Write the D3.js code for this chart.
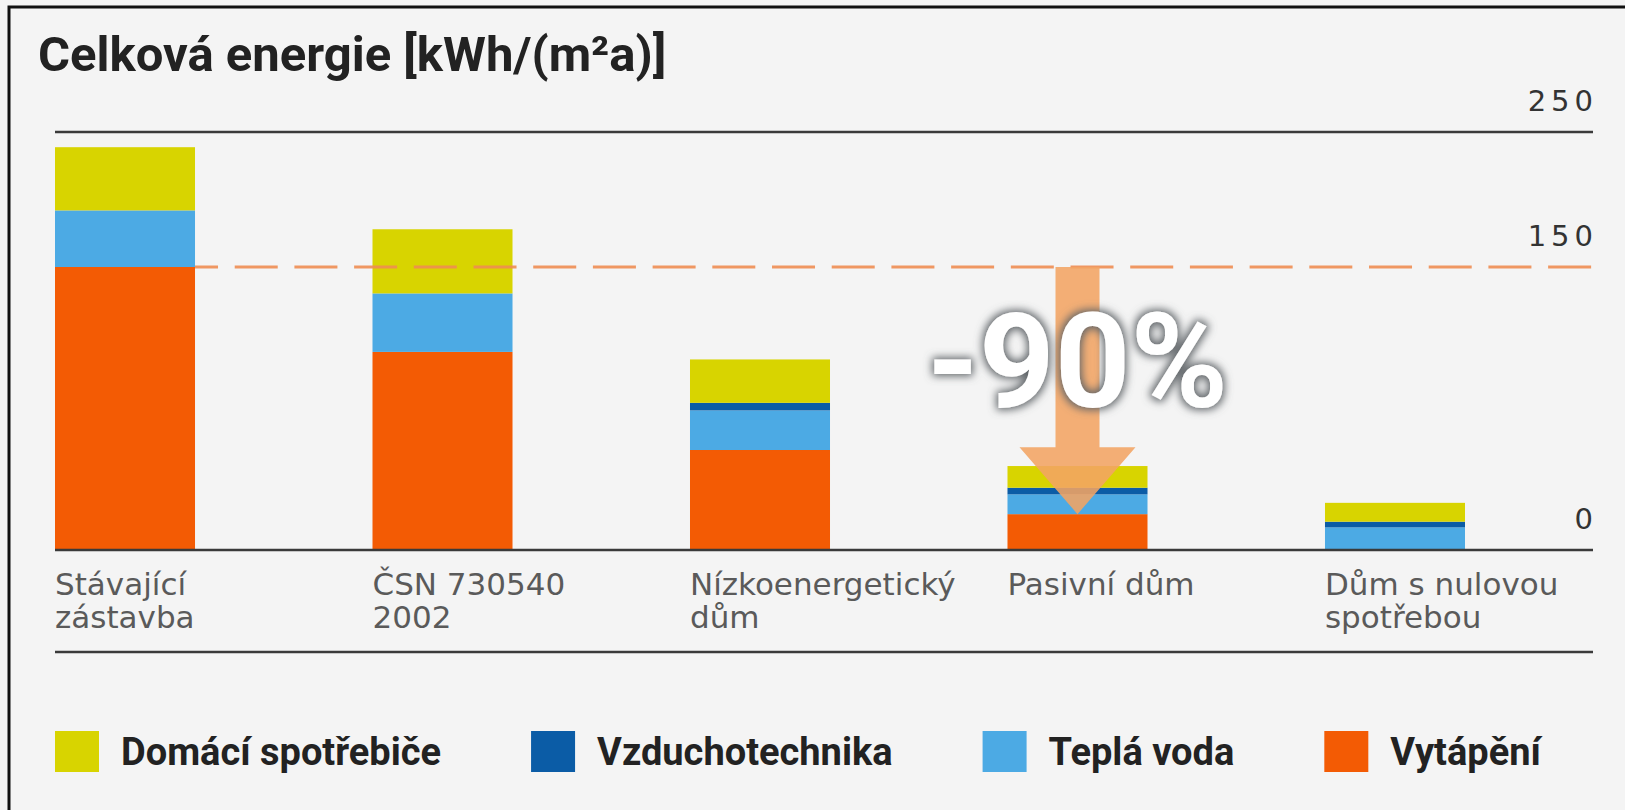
<!DOCTYPE html>
<html>
<head>
<meta charset="utf-8">
<script src="https://cdn.jsdelivr.net/npm/d3@7"></script>
<style>
  html, body { margin: 0; padding: 0; background: #f4f4f4; }
  svg { display: block; }
</style>
</head>
<body>
<div id="chart"></div>
<script>
// data, kWh/(m2a)
var categories = ["Stávající zástavba", "ČSN 730540 2002", "Nízkoenergetický dům", "Pasivní dům", "Dům s nulovou spotřebou"];
var categoryLines = [["Stávající", "zástavba"], ["ČSN 730540", "2002"], ["Nízkoenergetický", "dům"], ["Pasivní dům"], ["Dům s nulovou", "spotřebou"]];
var vytapeni = [150, 105, 53, 19, 0];
var teplaVoda = [30, 31, 21, 10.5, 12];
var vzduchotechnika = [0, 0, 4, 3.5, 3];
var spotrebice = [33.5, 34, 23, 11.5, 10];
var seriesNames = ["Vytápění", "Teplá voda", "Vzduchotechnika", "Domácí spotřebiče"];
var tickValues = [0, 150, 250];
var tickLabels = ["0", "150", "250"];
var referenceValue = 150;
var reductionLabel = "-90%";
var title = "Celková energie [kWh/(m²a)]";

var width = 1625, height = 810;
var left = 55, right = 1593;
var plotTop = 132, baseY = 550, lowerRule = 652;

var svg = d3.select("#chart")
  .append("svg")
  .attr("width", width)
  .attr("height", height);

var defs = svg.append("defs");
var glow = defs.append("filter")
  .attr("id", "glow")
  .attr("x", "-20%").attr("y", "-20%")
  .attr("width", "140%").attr("height", "140%");
glow.append("feMorphology").attr("in", "SourceAlpha").attr("operator", "dilate").attr("radius", 2).attr("result", "fat");
glow.append("feGaussianBlur").attr("in", "fat").attr("stdDeviation", 4).attr("result", "blur");
glow.append("feFlood").attr("flood-color", "#5f6468").attr("flood-opacity", 1);
glow.append("feComposite").attr("in2", "blur").attr("operator", "in").attr("result", "shadow");
var merge = glow.append("feMerge");
merge.append("feMergeNode").attr("in", "shadow");
merge.append("feMergeNode").attr("in", "SourceGraphic");

svg.append("rect")
  .attr("width", width)
  .attr("height", height)
  .attr("fill", "#f4f4f4");

// frame on the left and top
svg.append("path")
  .attr("d", "M9," + height + "V7H" + width)
  .attr("fill", "none")
  .attr("stroke", "#111")
  .attr("stroke-width", 3);

svg.append("text")
  .attr("x", 38)
  .attr("y", 71)
  .style("font-family", "Roboto, 'DejaVu Sans', sans-serif")
  .style("font-weight", "bold")
  .style("font-size", "49px")
  .style("fill", "#222")
  .text(title);

var x = d3.scaleBand()
  .domain(categories)
  .range([left, 1465])
  .paddingInner(0.559)
  .paddingOuter(0);

var y = d3.scaleLinear()
  .domain([0, referenceValue])
  .range([baseY, 267]);

// the printed axis is broken above 150: 250 sits on the top rule
var ruleY = d3.scaleLinear()
  .domain(tickValues)
  .range([y(0), y(referenceValue), plotTop]);

var color = d3.scaleOrdinal()
  .domain(seriesNames)
  .range(["#f35b04", "#4caae4", "#0b5ca6", "#d8d400"]);

var table = categories.map(function(c, i) {
  var row = { category: c };
  row[seriesNames[0]] = vytapeni[i];
  row[seriesNames[1]] = teplaVoda[i];
  row[seriesNames[2]] = vzduchotechnika[i];
  row[seriesNames[3]] = spotrebice[i];
  return row;
});

var stacked = d3.stack().keys(seriesNames)(table);

svg.append("g")
  .attr("class", "bars")
  .selectAll("g")
  .data(stacked)
  .enter()
  .append("g")
  .attr("fill", function(d) { return color(d.key); })
  .selectAll("rect")
  .data(function(d) { return d; })
  .enter()
  .append("rect")
  .attr("x", function(d) { return x(d.data.category); })
  .attr("y", function(d) { return y(d[1]); })
  .attr("width", x.bandwidth())
  .attr("height", function(d) { return y(d[0]) - y(d[1]); });

// rules: top (250), base (0) and the one under the labels
svg.append("g")
  .selectAll("line")
  .data([250, 0])
  .enter()
  .append("line")
  .attr("x1", left).attr("x2", right)
  .attr("y1", function(d) { return ruleY(d); })
  .attr("y2", function(d) { return ruleY(d); })
  .attr("stroke", "#3a3a3a")
  .attr("stroke-width", 2.5);

svg.append("line")
  .attr("x1", left).attr("x2", right)
  .attr("y1", lowerRule).attr("y2", lowerRule)
  .attr("stroke", "#3a3a3a")
  .attr("stroke-width", 2.5);

// dashed 150 line
svg.append("line")
  .attr("x1", x(categories[0]) + x.bandwidth())
  .attr("x2", right)
  .attr("y1", y(referenceValue))
  .attr("y2", y(referenceValue))
  .attr("stroke", "#ee8d52")
  .attr("stroke-opacity", 0.9)
  .attr("stroke-width", 3)
  .attr("stroke-dasharray", "43,16.7")
  .attr("stroke-dashoffset", 20);

// reduction arrow from 150 down to passive house heating
var cx = x(categories[3]) + x.bandwidth() / 2;
var arrowTop = y(referenceValue), arrowTip = y(vytapeni[3]);
var headH = 67, headW = 58, shaftW = 22;
svg.append("path")
  .attr("d", "M" + (cx - shaftW) + "," + arrowTop +
    "H" + (cx + shaftW) +
    "V" + (arrowTip - headH) +
    "H" + (cx + headW) +
    "L" + cx + "," + arrowTip +
    "L" + (cx - headW) + "," + (arrowTip - headH) +
    "H" + (cx - shaftW) + "Z")
  .attr("fill", "#f2a463")
  .attr("fill-opacity", 0.88);

svg.append("text")
  .attr("x", cx)
  .attr("y", 407)
  .attr("text-anchor", "middle")
  .attr("filter", "url(#glow)")
  .style("font-family", "Roboto, 'DejaVu Sans', sans-serif")
  .style("font-weight", "bold")
  .style("font-size", "132px")
  .style("fill", "#ffffff")
  .text(reductionLabel);

// value labels above the rules
svg.append("g")
  .selectAll("text")
  .data(tickValues)
  .enter()
  .append("text")
  .attr("x", right + 5)
  .attr("y", function(d) { return ruleY(d) - 21; })
  .attr("text-anchor", "end")
  .style("font-family", "'DejaVu Sans', sans-serif")
  .style("font-size", "29px")
  .style("letter-spacing", "5px")
  .style("fill", "#333")
  .text(function(d, i) { return tickLabels[i]; });

// category labels
var cat = svg.append("g")
  .selectAll("text")
  .data(categories)
  .enter()
  .append("text")
  .attr("x", function(d) { return x(d); })
  .attr("y", 595)
  .style("font-family", "'DejaVu Sans', sans-serif")
  .style("font-size", "31px")
  .style("fill", "#5a5a5a");
cat.selectAll("tspan")
  .data(function(d, i) { return categoryLines[i]; })
  .enter()
  .append("tspan")
  .attr("x", function() { return x(d3.select(this.parentNode).datum()); })
  .attr("dy", function(d, i) { return i ? 33 : 0; })
  .text(function(d) { return d; });

// legend, laid out left to right
var legendX = left;
seriesNames.slice().reverse().forEach(function(name) {
  svg.append("rect")
    .attr("x", legendX)
    .attr("y", 731)
    .attr("width", 44)
    .attr("height", 41)
    .attr("fill", color(name));
  var t = svg.append("text")
    .attr("x", legendX + 66)
    .attr("y", 765)
    .style("font-family", "Roboto, 'DejaVu Sans', sans-serif")
    .style("font-weight", "bold")
    .style("font-size", "38px")
    .style("fill", "#222")
    .text(name);
  legendX = legendX + 66 + t.node().getComputedTextLength() + 90;
});
</script>
</body>
</html>
